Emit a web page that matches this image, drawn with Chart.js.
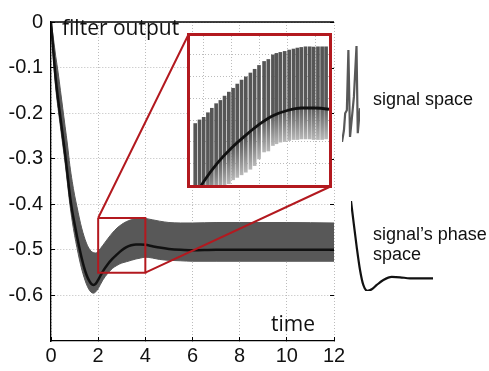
<!DOCTYPE html>
<html>
<head>
<meta charset="utf-8">
<script src="https://cdn.jsdelivr.net/npm/chart.js@4.4.1/dist/chart.umd.min.js"></script>
<style>
    html, body { margin: 0; padding: 0; background: #fff; }
    .container { position: relative; width: 489px; height: 371px; overflow: hidden; }
    .container canvas { position: absolute; }
    #mainChart { left: 0; top: 0; }
    #insetBox { position: absolute; left: 187px; top: 33px; width: 139px; height: 149px; border: 3px solid #b3191f; background: #fff; }
    #insetChart { left: 0; top: 0; }
    #signalSketch { left: 340px; top: 44px; }
    #phaseSketch { left: 349px; top: 199px; }
</style>
</head>
<body>
<div class="container">
    <canvas id="mainChart" width="489" height="371"></canvas>
    <div id="insetBox"><canvas id="insetChart" width="139" height="149"></canvas></div>
    <canvas id="signalSketch" width="22" height="100"></canvas>
    <canvas id="phaseSketch" width="86" height="94"></canvas>
</div>
<script>
// Courbe moyenne (trait noir)
const meanT = [0, 0.1, 0.2, 0.3, 0.4, 0.5, 0.6, 0.7, 0.8, 0.9, 1.0, 1.1, 1.2, 1.3, 1.4, 1.5, 1.6, 1.7, 1.8, 1.9, 2.0, 2.2, 2.4, 2.6, 2.8, 3.0, 3.2, 3.4, 3.6, 3.8, 4.0, 4.3, 4.6, 5.0, 5.5, 6, 7, 8, 10, 12];
const meanV = [0, -0.065, -0.125, -0.17, -0.21, -0.25, -0.29, -0.335, -0.38, -0.415, -0.443, -0.47, -0.495, -0.518, -0.538, -0.554, -0.566, -0.574, -0.577, -0.574, -0.566, -0.547, -0.532, -0.52, -0.51, -0.501, -0.494, -0.49, -0.488, -0.488, -0.489, -0.492, -0.495, -0.498, -0.5, -0.501, -0.5, -0.5, -0.5, -0.5];

// Enveloppe de la bande grise (signal oscillant)
const bandUpper = [0, -0.035, -0.075, -0.11, -0.15, -0.19, -0.23, -0.27, -0.315, -0.35, -0.38, -0.405, -0.43, -0.452, -0.47, -0.485, -0.496, -0.503, -0.506, -0.507, -0.503, -0.49, -0.476, -0.463, -0.452, -0.444, -0.438, -0.434, -0.431, -0.43, -0.431, -0.434, -0.437, -0.44, -0.441, -0.441, -0.44, -0.44, -0.44, -0.441];
const bandLower = [0, -0.08, -0.145, -0.19, -0.23, -0.27, -0.31, -0.355, -0.4, -0.437, -0.468, -0.495, -0.52, -0.542, -0.56, -0.575, -0.586, -0.593, -0.595, -0.592, -0.585, -0.566, -0.552, -0.541, -0.534, -0.529, -0.526, -0.523, -0.52, -0.518, -0.516, -0.518, -0.521, -0.523, -0.524, -0.525, -0.525, -0.525, -0.525, -0.525];

// Axes
const xTicks = [0, 2, 4, 6, 8, 10, 12];
const yTicks = [-0.6, -0.5, -0.4, -0.3, -0.2, -0.1, 0];
const yRange = [-0.7, 0];

// Zone agrandie
const zoomX = [2, 4];
const zoomY = [-0.55, -0.43];
const insetGridX = [2.2, 2.6, 3.0, 3.4, 3.8];
const insetGridY = [-0.533, -0.515, -0.498, -0.4805, -0.463, -0.445];

// Oscillations visibles dans l'encart (pics et creux)
const insetT = [2.075, 2.137, 2.197, 2.258, 2.314, 2.376, 2.437, 2.497, 2.559, 2.62, 2.68, 2.742, 2.803, 2.869, 2.93, 2.993, 3.066, 3.127, 3.193, 3.244, 3.3, 3.362, 3.427, 3.489, 3.545, 3.601, 3.662, 3.723, 3.779, 3.841, 3.901, 3.958];
const insetTop = [-0.5005, -0.4976, -0.4955, -0.4918, -0.4882, -0.4845, -0.4819, -0.4784, -0.4752, -0.4721, -0.4687, -0.4655, -0.4629, -0.4598, -0.4568, -0.4537, -0.4505, -0.4489, -0.4452, -0.444, -0.4432, -0.4424, -0.4413, -0.4405, -0.4397, -0.4392, -0.4387, -0.4387, -0.4389, -0.4387, -0.4387, -0.4387];
const insetBot = [-0.58, -0.575, -0.57, -0.566, -0.562, -0.558, -0.555, -0.552, -0.549, -0.5458, -0.5439, -0.5418, -0.5397, -0.5373, -0.5344, -0.529, -0.5234, -0.5226, -0.5182, -0.5168, -0.5155, -0.515, -0.5142, -0.5134, -0.5134, -0.5129, -0.5129, -0.5129, -0.5134, -0.5134, -0.5134, -0.5129];

// Petits croquis à droite
const sigSketchT = [0, 0.108, 0.177, 0.269, 0.355, 0.446, 0.591, 0.661, 0.806, 0.876, 1.0];
const sigSketchV = [0, 0.122, 0.3, 0.331, 0.958, 0.052, 0.331, 0.47, 1.0, 0.091, 0.352];
const phaseSketchT = [0, 0.028, 0.069, 0.110, 0.150, 0.199, 0.253, 0.314, 0.395, 0.497, 0.598, 0.72, 1.0];
const phaseSketchV = [1.0, 0.789, 0.493, 0.233, 0.067, 0.003, 0.019, 0.067, 0.122, 0.156, 0.152, 0.141, 0.141];

const RED = '#b3191f';
const BAND = '#585858';
const GRID = '#bcbcbc';
const INK = '#111';

Chart.defaults.font.family = '"Liberation Sans", Arial, sans-serif';
Chart.defaults.color = INK;

function pts(xs, ys) {
    return xs.map((x, i) => ({ x: x, y: ys[i] }));
}

const zoomBox = [
    { x: zoomX[0], y: zoomY[1] }, { x: zoomX[1], y: zoomY[1] },
    { x: zoomX[1], y: zoomY[0] }, { x: zoomX[0], y: zoomY[0] },
    { x: zoomX[0], y: zoomY[1] }
];

// Cadre du haut, traits vers l'encart, textes
const mainDecor = {
    id: 'mainDecor',
    afterDatasetsDraw(chart) {
        const { ctx, chartArea, scales } = chart;
        const x = scales.x, y = scales.y;
        ctx.save();
        ctx.strokeStyle = '#000';
        ctx.lineWidth = 1.3;
        ctx.beginPath();
        ctx.moveTo(chartArea.left, chartArea.top);
        ctx.lineTo(chartArea.right, chartArea.top);
        ctx.stroke();
        ctx.lineWidth = 1;
        y.ticks.forEach(t => {
            const py = Math.round(y.getPixelForValue(t.value)) + 0.5;
            ctx.beginPath();
            ctx.moveTo(chartArea.right - 4, py);
            ctx.lineTo(chartArea.right, py);
            ctx.stroke();
        });

        const cRect = chart.canvas.getBoundingClientRect();
        const bRect = document.getElementById('insetBox').getBoundingClientRect();
        const half = 1.5;
        ctx.strokeStyle = RED;
        ctx.lineWidth = 2;
        ctx.beginPath();
        ctx.moveTo(x.getPixelForValue(zoomX[0]), y.getPixelForValue(zoomY[1]));
        ctx.lineTo(bRect.left - cRect.left + half, bRect.top - cRect.top + half);
        ctx.moveTo(x.getPixelForValue(zoomX[1]), y.getPixelForValue(zoomY[0]));
        ctx.lineTo(bRect.right - cRect.left - half, bRect.bottom - cRect.top - half);
        ctx.stroke();

        ctx.fillStyle = INK;
        ctx.font = '21px "Open Sans"';
        ctx.fillText('filter output', 62, 35);
        ctx.fillText('time', 271, 330.5);
        ctx.font = '18px "Liberation Sans"';
        ctx.fillText('signal space', 373, 105);
        ctx.fillText('signal\u2019s phase', 373, 239.5);
        ctx.fillText('space', 373, 260);
        ctx.restore();
    }
};

function renderMainChart() {
    new Chart(document.getElementById('mainChart'), {
        type: 'line',
        data: {
            datasets: [
                { data: zoomBox, borderColor: RED, borderWidth: 2, pointRadius: 0, tension: 0, order: 0 },
                { data: pts(meanT, meanV), borderColor: INK, borderWidth: 2.5, pointRadius: 0, cubicInterpolationMode: 'monotone', order: 1 },
                { data: pts(meanT, bandUpper), borderColor: BAND, backgroundColor: BAND, borderWidth: 1, pointRadius: 0, cubicInterpolationMode: 'monotone', fill: '+1', order: 2 },
                { data: pts(meanT, bandLower), borderColor: BAND, borderWidth: 1, pointRadius: 0, cubicInterpolationMode: 'monotone', fill: false, order: 3 }
            ]
        },
        options: {
            responsive: false,
            animation: false,
            layout: { padding: { top: 10, right: 155, left: 0, bottom: 0 } },
            plugins: { legend: { display: false }, tooltip: { enabled: false } },
            scales: {
                x: {
                    type: 'linear', min: 0, max: 12,
                    afterBuildTicks: s => { s.ticks = xTicks.map(v => ({ value: v })); },
                    afterFit: s => { s.height = 30; },
                    ticks: { font: { size: 20, lineHeight: 1 }, padding: 9, color: INK },
                    grid: { color: GRID, tickLength: -4, tickColor: '#000' },
                    border: { color: '#000', width: 1.3, dash: [1, 2] }
                },
                y: {
                    type: 'linear', min: yRange[0], max: yRange[1],
                    afterBuildTicks: s => { s.ticks = yTicks.map(v => ({ value: v })); },
                    afterFit: s => { s.width = 51; },
                    ticks: { font: { size: 20, lineHeight: 1 }, padding: 12, color: INK, callback: v => v === 0 ? '0' : v.toFixed(1) },
                    grid: { color: GRID, tickLength: -4, tickColor: '#000' },
                    border: { color: '#000', width: 1.3, dash: [1, 2] }
                }
            }
        },
        plugins: [mainDecor]
    });
}

function barGradient(context) {
    const chart = context.chart;
    if (!chart.chartArea || context.type !== 'data') return BAND;
    const d = context.raw;
    const yTop = chart.scales.y.getPixelForValue(d.y[1]);
    const yBot = chart.scales.y.getPixelForValue(d.y[0]);
    const g = chart.ctx.createLinearGradient(0, yTop, 0, yBot);
    g.addColorStop(0, '#555');
    g.addColorStop(0.65, '#5a5a5a');
    g.addColorStop(1, '#b8b8b8');
    return g;
}

function renderInsetChart() {
    new Chart(document.getElementById('insetChart'), {
        type: 'bar',
        data: {
            datasets: [
                { type: 'line', data: pts(meanT, meanV), borderColor: INK, borderWidth: 2.8, pointRadius: 0, cubicInterpolationMode: 'monotone', order: 0 },
                { type: 'bar', data: insetT.map((t, i) => ({ x: t, y: [insetBot[i], insetTop[i]] })), backgroundColor: barGradient, borderWidth: 0, barThickness: 3, order: 1 }
            ]
        },
        options: {
            responsive: false,
            animation: false,
            layout: { padding: 0 },
            plugins: { legend: { display: false }, tooltip: { enabled: false } },
            scales: {
                x: {
                    type: 'linear', min: zoomX[0], max: zoomX[1], offset: false,
                    afterBuildTicks: s => { s.ticks = insetGridX.map(v => ({ value: v })); },
                    afterFit: s => { s.height = 0; },
                    ticks: { display: false },
                    grid: { color: GRID, drawTicks: false, offset: false },
                    border: { display: false, dash: [1, 2] }
                },
                y: {
                    type: 'linear', min: zoomY[0], max: zoomY[1], beginAtZero: false,
                    afterBuildTicks: s => { s.ticks = insetGridY.map(v => ({ value: v })); },
                    afterFit: s => { s.width = 0; },
                    ticks: { display: false },
                    grid: { color: GRID, drawTicks: false },
                    border: { display: false, dash: [1, 2] }
                }
            }
        }
    });
}

function renderSketch(id, xs, ys, color, smooth) {
    new Chart(document.getElementById(id), {
        type: 'line',
        data: {
            datasets: [{
                data: pts(xs, ys), borderColor: color, borderWidth: 2.2, pointRadius: 0,
                tension: 0, cubicInterpolationMode: smooth ? 'monotone' : 'default'
            }]
        },
        options: {
            responsive: false,
            animation: false,
            layout: { padding: 2 },
            plugins: { legend: { display: false }, tooltip: { enabled: false } },
            scales: {
                x: { type: 'linear', min: 0, max: 1, display: false },
                y: { type: 'linear', min: 0, max: 1, display: false }
            }
        }
    });
}

renderMainChart();
renderInsetChart();
renderSketch('signalSketch', sigSketchT, sigSketchV, BAND, false);
renderSketch('phaseSketch', phaseSketchT, phaseSketchV, INK, true);
</script>
</body>
</html>
